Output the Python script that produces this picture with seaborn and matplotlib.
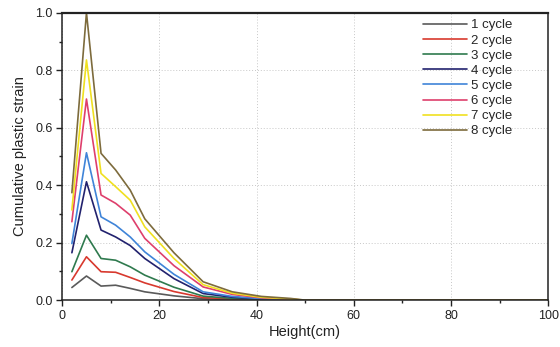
import numpy as np
import pandas as pd
import matplotlib
matplotlib.use("Agg")
import matplotlib.pyplot as plt
import seaborn as sns

# Height positions (cm) and cumulative plastic strain per cycle
height = [2, 5, 8, 11, 14, 17, 23, 29, 35, 41, 47, 50, 100]

cycle_1 = [0.044, 0.084, 0.049, 0.052, 0.041, 0.029, 0.015, 0.005, 0.002, 0.001, 0.0, 0.0, 0.0]
cycle_2 = [0.070, 0.151, 0.099, 0.097, 0.079, 0.060, 0.030, 0.009, 0.004, 0.002, 0.001, 0.0, 0.0]
cycle_3 = [0.099, 0.226, 0.145, 0.139, 0.116, 0.087, 0.045, 0.014, 0.006, 0.003, 0.001, 0.0, 0.0]
cycle_4 = [0.165, 0.412, 0.244, 0.220, 0.190, 0.145, 0.075, 0.023, 0.010, 0.004, 0.002, 0.0, 0.0]
cycle_5 = [0.197, 0.513, 0.290, 0.261, 0.220, 0.168, 0.090, 0.029, 0.013, 0.005, 0.002, 0.0, 0.0]
cycle_6 = [0.273, 0.700, 0.366, 0.337, 0.296, 0.215, 0.120, 0.046, 0.020, 0.008, 0.003, 0.0, 0.0]
cycle_7 = [0.314, 0.836, 0.441, 0.395, 0.348, 0.255, 0.145, 0.054, 0.024, 0.010, 0.004, 0.0, 0.0]
cycle_8 = [0.374, 1.000, 0.511, 0.453, 0.383, 0.283, 0.165, 0.064, 0.029, 0.013, 0.006, 0.0, 0.0]

series = [cycle_1, cycle_2, cycle_3, cycle_4, cycle_5, cycle_6, cycle_7, cycle_8]
labels = ["1 cycle", "2 cycle", "3 cycle", "4 cycle", "5 cycle", "6 cycle", "7 cycle", "8 cycle"]
colors = ["#5a5a5a", "#d8392e", "#2f7a4e", "#22226e", "#3f84d8", "#de3f6c", "#f0e020", "#7d6b3c"]

rows = []
for lab, vals in zip(labels, series):
    for h, v in zip(height, vals):
        rows.append({"Height": h, "Strain": v, "Cycle": lab})
df = pd.DataFrame(rows)

sns.set_style("white")
plt.rcParams["font.family"] = ["Liberation Sans", "DejaVu Sans"]

fig = plt.figure(figsize=(5.6, 3.47), dpi=100)
ax = fig.add_axes([0.111, 0.135, 0.868, 0.828])

sns.lineplot(data=df, x="Height", y="Strain", hue="Cycle", hue_order=labels,
             palette=colors, linewidth=1.2, ax=ax, legend=True)

ax.set_xlim(0, 100)
ax.set_ylim(0, 1.0)
ax.set_xticks([0, 20, 40, 60, 80, 100])
ax.set_xticks([10, 30, 50, 70, 90], minor=True)
ax.set_yticks([0.0, 0.2, 0.4, 0.6, 0.8, 1.0])
ax.set_yticks([0.1, 0.3, 0.5, 0.7, 0.9], minor=True)
ax.set_yticklabels(["0.0", "0.2", "0.4", "0.6", "0.8", "1.0"])
ax.grid(True, which="major", linestyle=(0, (1, 2)), color="#c8c8c8", linewidth=0.7)

ax.tick_params(which="both", bottom=True, left=True, top=False, right=False)
ax.tick_params(which="major", direction="out", length=4, width=1, labelsize=9,
               colors="#222222", pad=3)
ax.tick_params(which="minor", direction="out", length=2.5, width=1, colors="#222222")
for s in ax.spines.values():
    s.set_color("#222222")
    s.set_linewidth(1.1)
ax.spines["top"].set_linewidth(1.6)

ax.set_xlabel("Height(cm)", fontsize=10.5, labelpad=2, color="#222222")
ax.set_ylabel("Cumulative plastic strain", fontsize=10.5, labelpad=6, color="#222222")

leg = ax.legend(loc="upper right", frameon=False, fontsize=9.5, handlelength=3.3,
                labelspacing=0.22, handletextpad=0.3, borderaxespad=0.3,
                bbox_to_anchor=(0.945, 1.01))
for line in leg.get_lines():
    line.set_linewidth(1.2)

fig.savefig("out.png", dpi=100)
